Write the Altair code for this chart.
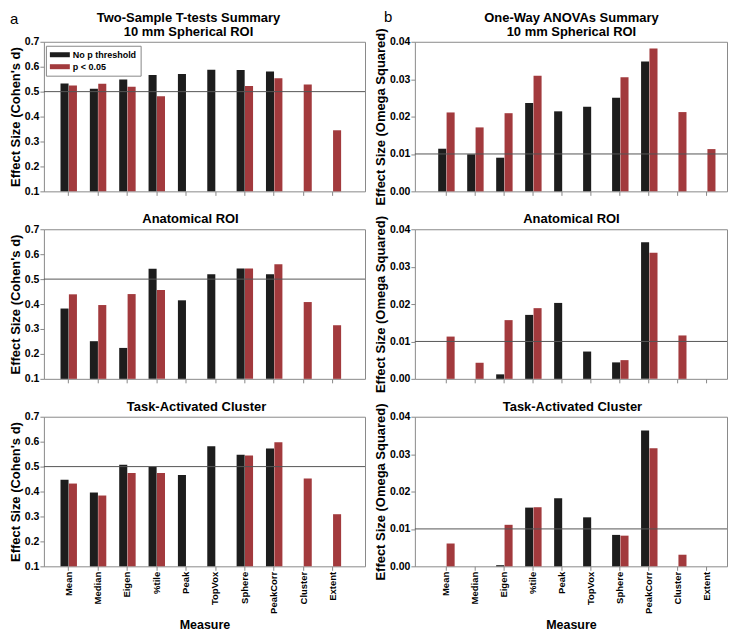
import altair as alt
import pandas as pd

measures = ["Mean", "Median", "Eigen", "%tile", "Peak", "TopVox", "Sphere", "PeakCorr", "Cluster", "Extent"]
series = ["No p threshold", "p < 0.05"]

# Two-Sample T-tests (Cohen's d)
t_sphere_nop = [0.533, 0.512, 0.549, 0.567, 0.571, 0.588, 0.587, 0.581, None, None]
t_sphere_p05 = [0.525, 0.532, 0.520, 0.481, None, None, 0.523, 0.554, 0.529, 0.345]
t_anat_nop = [0.382, 0.251, 0.224, 0.542, 0.415, 0.520, 0.543, 0.520, None, None]
t_anat_p05 = [0.439, 0.396, 0.440, 0.456, None, None, 0.543, 0.560, 0.408, 0.315]
t_task_nop = [0.447, 0.396, 0.507, 0.499, 0.466, 0.582, 0.548, 0.573, None, None]
t_task_p05 = [0.432, 0.384, 0.474, 0.474, None, None, 0.545, 0.598, 0.452, 0.309]

# One-Way ANOVAs (Omega Squared)
a_sphere_nop = [0.0114, 0.0099, 0.0090, 0.0236, 0.0214, 0.0226, 0.0250, 0.0347, None, None]
a_sphere_p05 = [0.0211, 0.0171, 0.0209, 0.0309, None, None, 0.0305, 0.0382, 0.0212, 0.0113]
a_anat_nop = [None, None, 0.0012, 0.0171, 0.0203, 0.0073, 0.0044, 0.0365, None, None]
a_anat_p05 = [0.0113, 0.0043, 0.0157, 0.0189, None, None, 0.0050, 0.0337, 0.0116, None]
a_task_nop = [None, None, 0.0003, 0.0157, 0.0182, 0.0131, 0.0084, 0.0363, None, None]
a_task_p05 = [0.0061, None, 0.0111, 0.0158, None, None, 0.0082, 0.0316, 0.0031, None]

left_ticks = [0.1, 0.2, 0.3, 0.4, 0.5, 0.6, 0.7]
right_ticks = [0.0, 0.01, 0.02, 0.03, 0.04]
ref_left = [0.5]
ref_right = [0.01]

FONT = "Liberation Sans"
BLACK = "#1d1d1d"
RED = "#a23a3d"

LW, RW, H = 322, 313, 150


def text_layer(txt, x, y, size, weight="bold", align="center"):
    return alt.Chart(pd.DataFrame({"t": [txt]})).mark_text(
        align=align, baseline="alphabetic", fontSize=size, fontWeight=weight,
        font=FONT, color="black"
    ).encode(text="t:N", x=alt.value(x), y=alt.value(y))


def panel(nop, p05, title, ydomain, yticks, yfmt, ytitle, ref, bottom, legend, letter,
          xscale, tx, width, height):
    df = pd.DataFrame({
        "Measure": measures * 2,
        "Series": [series[0]] * len(measures) + [series[1]] * len(measures),
        "Value": nop + p05,
    }).dropna()
    if legend:
        leg = alt.Legend(title=None, orient="none", legendX=2, legendY=4, strokeColor="#888",
                         fillColor="white", padding=4,
                         symbolType="M-1,-0.5L3,-0.5L3,0.5L-1,0.5Z",
                         symbolSize=100, symbolStrokeWidth=0, labelFont=FONT, labelFontWeight="bold",
                         labelFontSize=9, labelColor="black", rowPadding=2, labelOffset=13)
    else:
        leg = None
    if bottom:
        xaxis = alt.Axis(title="Measure", labelAngle=-90, labels=True)
    else:
        xaxis = alt.Axis(title=None, labels=False)
    yscale = alt.Scale(domain=ydomain, nice=False, zero=False)
    yaxis = alt.Axis(values=yticks, format=yfmt, title=ytitle, labelOverlap=False)
    bars = alt.Chart(df).mark_bar().encode(
        x=alt.X("Measure:N", sort=measures, scale=xscale, axis=xaxis),
        xOffset=alt.XOffset("Series:N", sort=series,
                            scale=alt.Scale(domain=series, paddingInner=0.04)),
        y=alt.Y("Value:Q", scale=yscale, axis=yaxis),
        y2=alt.datum(ydomain[0]),
        color=alt.Color("Series:N", scale=alt.Scale(domain=series, range=[BLACK, RED]), legend=leg),
    )
    rule = alt.Chart(pd.DataFrame({"ref": ref})).mark_rule(color="#555555", strokeWidth=1).encode(
        y=alt.Y("ref:Q", scale=yscale, axis=yaxis)
    )
    layers = [bars, rule]
    if isinstance(title, list):
        layers.append(text_layer(title[0], tx, -20, 13))
        layers.append(text_layer(title[1], tx, -6, 13))
    else:
        layers.append(text_layer(title, tx, -6, 13))
    if letter:
        layers.append(text_layer(letter[0], letter[1], letter[2], 15, weight="normal", align="left"))
    return alt.layer(*layers).properties(width=width, height=height)


lscale = alt.Scale(domain=measures, paddingInner=0.44, paddingOuter=0.69, align=0.41)
rscale = alt.Scale(domain=measures, paddingInner=0.45, paddingOuter=0.61, align=0.66)

lt = "Effect Size (Cohen's d)"
rt = "Effect Size (Omega Squared)"

left = alt.vconcat(
    panel(t_sphere_nop, t_sphere_p05, ["Two-Sample T-tests Summary", "10 mm Spherical ROI"],
          [0.1, 0.7], left_ticks, ".1f", lt, ref_left, False, True, ("a", -34, -18), lscale, 145, LW, H),
    panel(t_anat_nop, t_anat_p05, "Anatomical ROI",
          [0.1, 0.7], left_ticks, ".1f", lt, ref_left, False, False, None, lscale, 147, LW, H),
    panel(t_task_nop, t_task_p05, "Task-Activated Cluster",
          [0.1, 0.7], left_ticks, ".1f", lt, ref_left, True, False, None, lscale, 153, LW, H),
    spacing=38, bounds="flush",
).resolve_legend(color="independent").resolve_scale(color="independent")

right = alt.vconcat(
    panel(a_sphere_nop, a_sphere_p05, ["One-Way ANOVAs Summary", "10 mm Spherical ROI"],
          [0.0, 0.04], right_ticks, ".2f", rt, ref_right, False, False, ("b", -31, -20), rscale, 157, RW, H),
    panel(a_anat_nop, a_anat_p05, "Anatomical ROI",
          [0.0, 0.04], right_ticks, ".2f", rt, ref_right, False, False, None, rscale, 157, RW, H),
    panel(a_task_nop, a_task_p05, "Task-Activated Cluster",
          [0.0, 0.04], right_ticks, ".2f", rt, ref_right, True, False, None, rscale, 158, RW, H),
    spacing=38, bounds="flush",
).resolve_legend(color="independent").resolve_scale(color="independent")

chart = alt.hconcat(left, right, spacing=8).resolve_legend(
    color="independent"
).resolve_scale(color="independent").properties(padding=0, background="white").configure_axis(
    labelFont=FONT, titleFont=FONT, labelFontWeight="bold", titleFontWeight="bold",
    labelColor="black", titleColor="black", tickColor="#888888", domain=False, grid=False,
    tickSize=4, labelPadding=1,
).configure_axisX(
    labelFontSize=9.5, titleFontSize=12.5, titlePadding=5,
).configure_axisY(
    labelFontSize=10.5, titleFontSize=13, titlePadding=2, labelOverlap=False,
).configure_view(
    stroke="#8a8a8a", strokeWidth=1,
)

chart.save("out.html", embed_options={"renderer": "svg", "actions": False})
